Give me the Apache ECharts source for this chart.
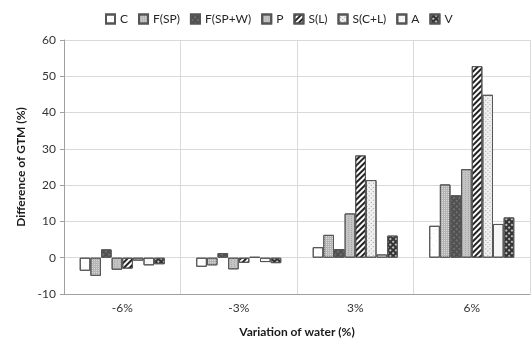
<!DOCTYPE html>
<html><head><meta charset="utf-8">
<script src="https://cdn.jsdelivr.net/npm/echarts@6/dist/echarts.min.js"></script>
<style>html,body{margin:0;padding:0;background:#fff}#c{width:532px;height:343px}</style>
</head><body><div id="c"></div>
<script>
var categories = ['-6%', '-3%', '3%', '6%'];
var seriesNames = ['C', 'F(SP)', 'F(SP+W)', 'P', 'S(L)', 'S(C+L)', 'A', 'V'];
var valC     = [-3.6, -2.5, 2.9, 8.8];
var valFSP   = [-5.0, -2.1, 6.3, 20.2];
var valFSPW  = [2.3, 1.3, 2.4, 17.2];
var valP     = [-3.3, -3.2, 12.2, 24.4];
var valSL    = [-3.0, -1.4, 28.2, 52.8];
var valSCL   = [-0.8, 0.2, 21.4, 44.9];
var valA     = [-2.1, -1.2, 0.9, 9.3];
var valV     = [-1.8, -1.5, 6.1, 11.1];
var yTicks = [-10, 0, 10, 20, 30, 40, 50, 60];

var allValues = [valC, valFSP, valFSPW, valP, valSL, valSCL, valA, valV];
var styles = [
  {color:'#ffffff', decal:{symbol:'circle', symbolSize:0.5, dashArrayX:[[1,5]], dashArrayY:[1,4], color:'#555'}},
  {color:'#b4b4b4', decal:{symbol:'rect', symbolSize:1, dashArrayX:[[1,1]], dashArrayY:[1,1], color:'#d8d8d8'}},
  {color:'#505050', decal:{symbol:'rect', symbolSize:1, dashArrayX:[[2,2]], dashArrayY:[2,2], color:'#707070'}},
  {color:'#c4c4c4', decal:{symbol:'rect', symbolSize:1, dashArrayX:[[1,2]], dashArrayY:[1,1], color:'#a8a8a8'}},
  {color:'#ffffff', decal:{symbol:'rect', symbolSize:1, dashArrayX:[[1,0]], dashArrayY:[2,2], rotation:-Math.PI/4, color:'#222'}},
  {color:'#f0f0f0', decal:{symbol:'rect', symbolSize:1, dashArrayX:[[1,2]], dashArrayY:[1,2], rotation:Math.PI/4, color:'#999'}},
  {color:'#f6f6f6', decal:{symbol:'circle', symbolSize:0.5, dashArrayX:[[1,5]], dashArrayY:[1,5], color:'#ccc'}},
  {color:'#333333', decal:{symbol:'rect', symbolSize:1, dashArrayX:[[2,2]], dashArrayY:[2,2], rotation:Math.PI/4, color:'#bbb'}}
];

var series = seriesNames.map(function(n, i){
  return {
    name: n, type: 'bar', data: allValues[i],
    barGap: '0%', barCategoryGap: '27%',
    itemStyle: {color: styles[i].color, decal: styles[i].decal, borderColor: '#555', borderWidth: 1},
    emphasis: {disabled: true}
  };
});

var chart = echarts.init(document.getElementById('c'), null, {renderer:'canvas'});
chart.setOption({
  animation: false,
  aria: {enabled: true, decal: {show: true}},
  textStyle: {fontFamily: 'Lato, "Open Sans", sans-serif'},
  legend: {
    top: 8, left: 100, itemWidth: 9, itemHeight: 9, itemGap: 10,
    icon: 'rect',
    textStyle: {fontSize: 12, color: '#262626', fontFamily: 'Lato'},
    data: seriesNames
  },
  grid: {left: 64, right: 2, top: 40, bottom: 47, containLabel: false},
  xAxis: {
    type: 'category', data: categories,
    name: 'Variation of water (%)', nameLocation: 'middle', nameGap: 32,
    nameTextStyle: {fontWeight: 'bold', fontSize: 12, color: '#1a1a1a', fontFamily: 'Lato'},
    axisLine: {onZero: false, lineStyle: {color: '#a0a0a0'}},
    axisTick: {show: false},
    axisLabel: {fontSize: 12, color: '#333', margin: 8},
    splitLine: {show: true, lineStyle: {color: '#d9d9d9'}}
  },
  yAxis: {
    type: 'value', min: -10, max: 60, interval: 10,
    name: 'Difference of GTM (%)', nameLocation: 'middle', nameGap: 37,
    nameTextStyle: {fontWeight: 'bold', fontSize: 12, color: '#1a1a1a', fontFamily: 'Lato'},
    axisLine: {show: true, lineStyle: {color: '#a0a0a0'}},
    axisTick: {show: true, inside: false, length: 4, lineStyle: {color: '#a0a0a0'}},
    axisLabel: {fontSize: 12, color: '#333', margin: 8,
      customValues: yTicks},
    splitLine: {show: true, lineStyle: {color: '#d9d9d9'}}
  },
  series: series
});
</script></body></html>
